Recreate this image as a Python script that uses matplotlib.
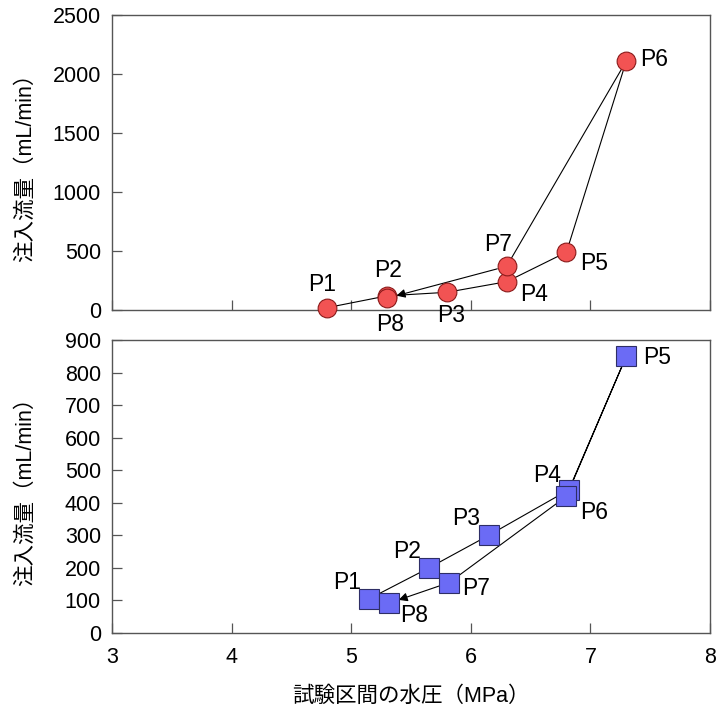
import matplotlib
matplotlib.use("Agg")
import matplotlib.pyplot as plt

plt.rcParams['font.family'] = ['Liberation Sans', 'Noto Sans CJK JP']

labels = ["P1", "P2", "P3", "P4", "P5", "P6", "P7", "P8"]

top_x = [4.8, 5.3, 5.8, 6.3, 6.8, 7.3, 6.3, 5.3]
top_y = [20, 120, 150, 240, 490, 2110, 370, 100]

bot_x = [5.15, 5.65, 6.15, 6.82, 7.3, 6.8, 5.82, 5.32]
bot_y = [105, 200, 300, 440, 850, 420, 155, 92]

# label offsets (points)
top_off = [(-4, 17), (1, 18), (3, -17), (20, -9), (20, -8), (20, 1), (-6, 16), (2, -19)]
bot_off = [(-16, 12), (-16, 12), (-16, 12), (-16, 10), (22, -1), (20, -12), (19, -4), (18, -9)]

xticks = [3, 4, 5, 6, 7, 8]
FS = 15.5
LFS = 16.5

fig = plt.figure(figsize=(7.16, 7.06), dpi=100)
ax1 = fig.add_axes([0.1564, 0.5609, 0.8352, 0.4179])
ax2 = fig.add_axes([0.1564, 0.1034, 0.8352, 0.4150])

def draw(ax, xs, ys, offs, marker, ms, fc, ec):
    ax.plot(xs[:-1], ys[:-1], color='black', lw=0.8, zorder=2)
    ax.annotate("", xy=(xs[-1], ys[-1]), xytext=(xs[-2], ys[-2]),
                arrowprops=dict(arrowstyle='-|>', color='black', lw=0.8,
                                mutation_scale=13, shrinkA=7, shrinkB=7),
                zorder=2)
    for i, (x, y) in enumerate(zip(xs, ys)):
        ax.plot([x], [y], marker=marker, ms=ms,
                mfc=fc, mec=ec, mew=0.8, ls='none', zorder=3 + i * 0.01)
        ax.annotate(labels[i], (x, y), xytext=offs[i], textcoords='offset points',
                    ha='center', va='center', fontsize=LFS, zorder=5)

draw(ax1, top_x, top_y, top_off, 'o', 13.5, '#F25353', '#8B1A1A')
draw(ax2, bot_x, bot_y, bot_off, 's', 14.5, '#6B6BF5', '#2E2E66')

for ax in (ax1, ax2):
    ax.set_xlim(3, 8)
    ax.set_xticks(xticks)
    ax.tick_params(direction='in', length=7, width=0.9, colors='#555555',
                   labelcolor='black', labelsize=FS)
    ax.tick_params(axis='x', pad=10)
    ax.tick_params(axis='y', pad=8)
    for s in ax.spines:
        ax.spines[s].set_color('#555555')
        ax.spines[s].set_linewidth(1.0)
    for l in ax.lines:
        l.set_clip_on(False)

ax1.set_ylim(0, 2500)
ax1.set_yticks([0, 500, 1000, 1500, 2000, 2500])
ax1.tick_params(axis='x', labelbottom=False)
ax1.set_ylabel("注入流量（mL/min）", fontsize=FS)

ax2.set_ylim(0, 900)
ax2.set_yticks(list(range(0, 901, 100)))
ax2.set_ylabel("注入流量（mL/min）", fontsize=FS)
ax2.set_xlabel("試験区間の水圧（MPa）", fontsize=FS)

ax1.yaxis.set_label_coords(-0.127, 0.5)
ax2.yaxis.set_label_coords(-0.127, 0.5)
ax2.xaxis.set_label_coords(0.5, -0.18)

fig.savefig("out.png", dpi=100)
